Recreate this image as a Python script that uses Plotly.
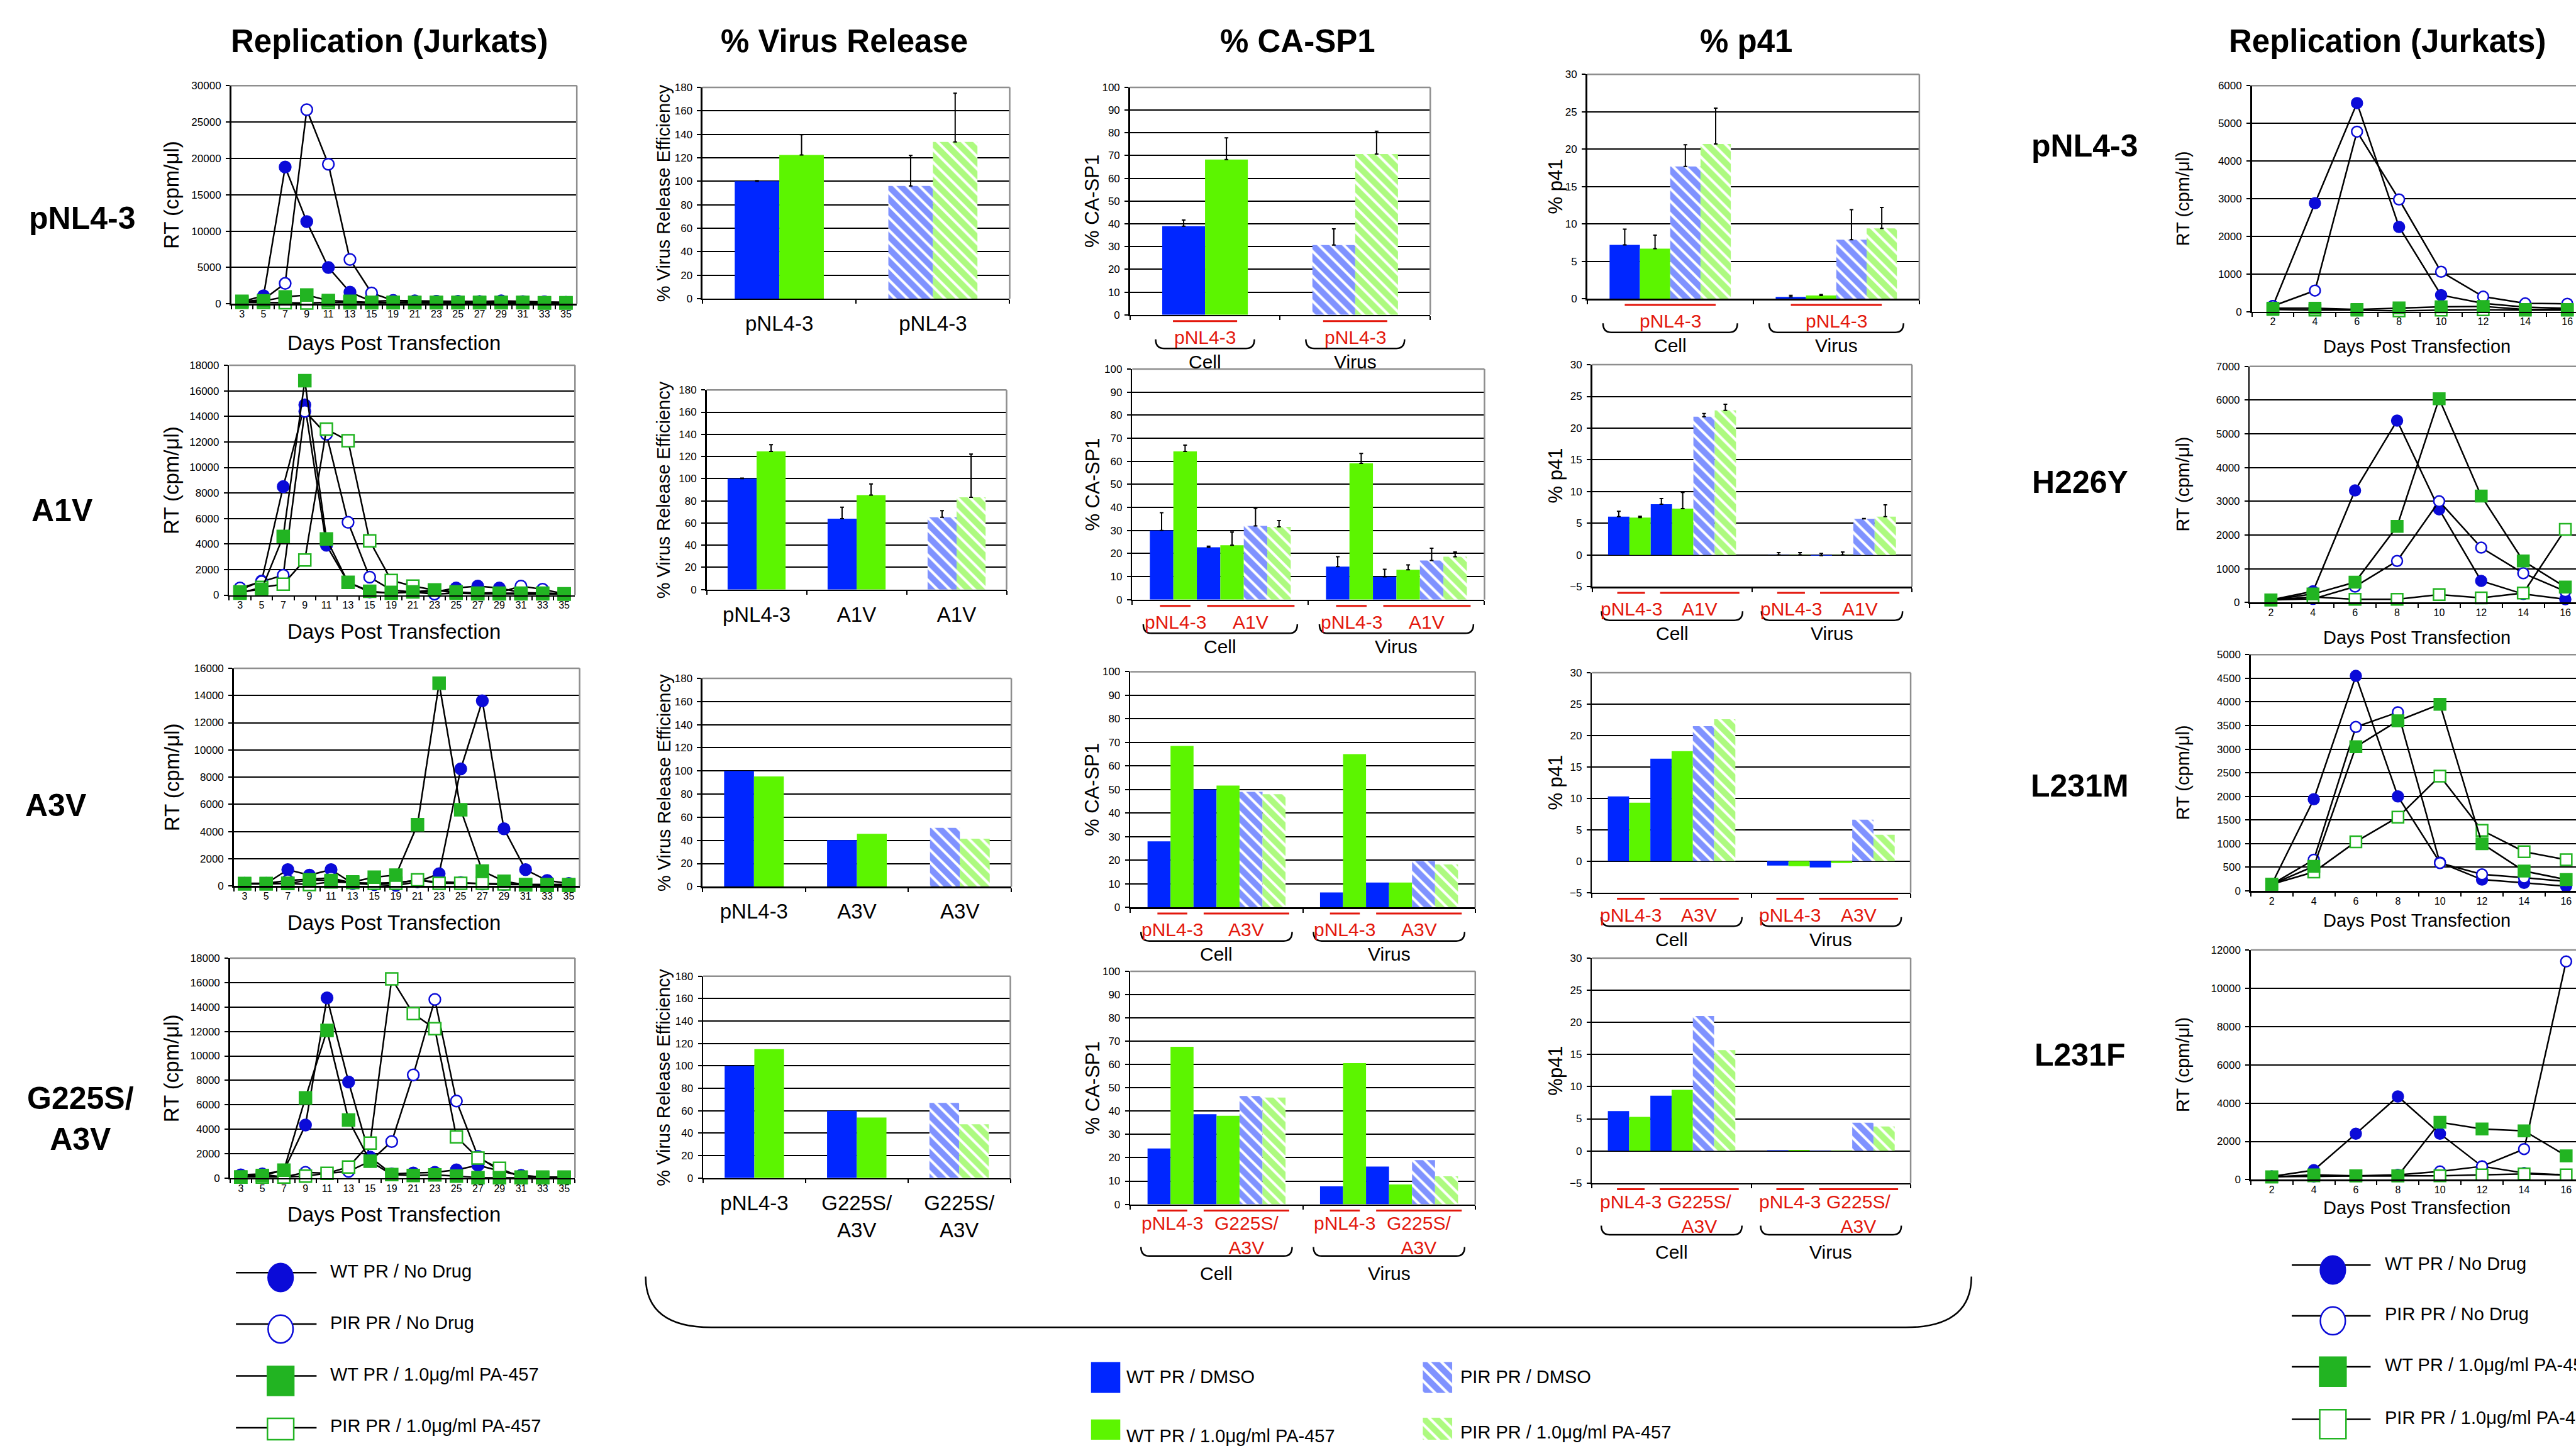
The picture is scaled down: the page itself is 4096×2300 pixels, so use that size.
import plotly.graph_objects as go

# ------------------------------------------------------------------ data
days_left = ["3", "5", "7", "9", "11", "13", "15", "19", "21", "23", "25", "27", "29", "31", "33", "35"]
days_right = ["2", "4", "6", "8", "10", "12", "14", "16"]
series_labels = ["WT PR / No Drug", "PIR PR / No Drug", "WT PR / 1.0μg/ml PA-457", "PIR PR / 1.0μg/ml PA-457"]
bar_legend_labels = ["WT PR / DMSO", "WT PR / 1.0μg/ml PA-457", "PIR PR / DMSO", "PIR PR / 1.0μg/ml PA-457"]
left_rows = ["pNL4-3", "A1V", "A3V", "G225S/<br>A3V"]
right_rows = ["pNL4-3", "H226Y", "L231M", "L231F"]
mutants = ["A1V", "A3V", "G225S/<br>A3V"]

# Replication (left column, days 3-35), RT cpm/ul
L1_wt_nd = [300, 1100, 18800, 11300, 5000, 1600, 350, 450, 400, 350, 350, 300, 400, 300, 250, 200]
L1_pir_nd = [250, 600, 2800, 26700, 19200, 6100, 1500, 450, 350, 350, 300, 300, 300, 250, 250, 200]
L1_wt_pa = [350, 400, 950, 1200, 450, 350, 200, 200, 200, 200, 200, 200, 200, 200, 150, 150]
L1_pir_pa = [200, 200, 150, 100, 200, 150, 150, 150, 150, 150, 150, 150, 150, 150, 100, 100]

L2_wt_nd = [400, 1100, 8500, 14900, 3900, 1000, 250, 150, 250, 250, 550, 700, 550, 200, 150, 100]
L2_pir_nd = [550, 1050, 1550, 14400, 12600, 5700, 1400, 400, 250, 80, 150, 150, 200, 700, 450, 100]
L2_wt_pa = [250, 450, 4600, 16800, 4400, 1000, 300, 150, 250, 400, 150, 100, 100, 100, 100, 80]
L2_pir_pa = [150, 600, 850, 2750, 13000, 12100, 4250, 1150, 700, 400, 250, 150, 150, 150, 150, 100]

L3_wt_nd = [180, 180, 1200, 800, 1200, 180, 100, 50, 300, 900, 8600, 13600, 4200, 1200, 400, 180]
L3_pir_nd = [200, 200, 400, 500, 600, 200, 200, 250, 400, 300, 250, 150, 100, 100, 100, 100]
L3_wt_pa = [180, 180, 180, 450, 400, 300, 650, 800, 4500, 14900, 5600, 1100, 350, 80, 50, 50]
L3_pir_pa = [150, 150, 200, 100, 300, 250, 200, 200, 450, 200, 200, 200, 150, 100, 100, 100]

L4_wt_nd = [260, 340, 600, 4340, 14750, 7870, 1710, 340, 415, 470, 675, 1040, 600, 210, 80, 80]
L4_pir_nd = [210, 300, 80, 470, 390, 545, 1380, 2990, 8440, 14620, 6310, 1770, 600, 210, 80, 80]
L4_wt_pa = [80, 210, 650, 6570, 12080, 4750, 1380, 290, 210, 260, 160, 30, 30, 30, 30, 30]
L4_pir_pa = [80, 80, 80, 160, 390, 910, 2860, 16310, 13460, 12230, 3380, 1640, 800, 80, 80, 80]

# Replication (right column, days 2-16)
R1_wt_nd = [150, 2880, 5540, 2250, 440, 220, 120, 90]
R1_pir_nd = [150, 560, 4780, 2980, 1060, 400, 220, 210]
R1_wt_pa = [90, 90, 60, 100, 130, 140, 60, 60]
R1_pir_pa = [60, 40, 40, 20, 40, 50, 40, 40]

R2_wt_nd = [75, 330, 3320, 5390, 2760, 640, 250, 95]
R2_pir_nd = [75, 105, 470, 1230, 3000, 1625, 865, 330]
R2_wt_pa = [75, 250, 600, 2255, 6040, 3155, 1230, 455]
R2_pir_pa = [75, 165, 95, 95, 235, 135, 280, 2165]

R3_wt_nd = [140, 1940, 4550, 2000, 600, 240, 170, 100]
R3_pir_nd = [140, 660, 3470, 3780, 590, 350, 280, 200]
R3_wt_pa = [140, 520, 3050, 3600, 3950, 1000, 420, 240]
R3_pir_pa = [140, 400, 1040, 1560, 2430, 1280, 830, 660]

R4_wt_nd = [170, 500, 2400, 4350, 2400, 700, 350, 250]
R4_pir_nd = [170, 170, 200, 250, 430, 700, 1600, 11400]
R4_wt_pa = [150, 250, 200, 200, 3000, 2650, 2550, 1250]
R4_pir_pa = [150, 200, 200, 200, 200, 250, 300, 250]

# % Virus Release Efficiency (blue = DMSO, green = PA-457; hatched = PIR PR)
VR1_cats = ["pNL4-3", "pNL4-3"]
VR1_hatch = ["", "\\"]
VR1_blue = [100, 96]
VR1_blue_err = [0.5, 26]
VR1_green = [122.4, 133.5]
VR1_green_err = [17.2, 41.5]

VR2_cats = ["pNL4-3", "A1V", "A1V"]
VR2_hatch = ["", "", "\\"]
VR2_blue = [100, 63.9, 65.1]
VR2_blue_err = [0.4, 10.3, 6]
VR2_green = [124.5, 85.2, 83.1]
VR2_green_err = [6.1, 10, 39.1]

VR3_cats = ["pNL4-3", "A3V", "A3V"]
VR3_hatch = ["", "", "\\"]
VR3_blue = [100, 40.2, 50.9]
VR3_green = [95.3, 45.7, 41.5]

VR4_cats = ["pNL4-3", "G225S/<br>A3V", "G225S/<br>A3V"]
VR4_hatch = ["", "", "\\"]
VR4_blue = [100, 60, 67]
VR4_green = [115, 54, 48]

# % CA-SP1 ; categories Cell, Virus
fractions = ["Cell", "Virus"]
CA1_hatch = ["", "\\"]
CA1_blue = [39.0, 30.7]
CA1_blue_err = [2.7, 7.1]
CA1_green = [68.3, 70.7]
CA1_green_err = [9.5, 10.0]

CA2_wt_blue = [30.0, 14.3]
CA2_wt_blue_err = [7.7, 4.3]
CA2_wt_green = [64.3, 59.1]
CA2_wt_green_err = [2.7, 4.3]
CA2_mut_blue = [22.7, 9.9]
CA2_mut_blue_err = [0.5, 3.3]
CA2_mut_green = [23.6, 13.0]
CA2_mut_green_err = [5.7, 2.1]
CA2_pir_blue = [32.0, 17.0]
CA2_pir_blue_err = [7.6, 5.3]
CA2_pir_green = [31.6, 18.6]
CA2_pir_green_err = [2.7, 2.1]

CA3_wt_blue = [28.0, 6.3]
CA3_wt_green = [68.5, 65.0]
CA3_mut_blue = [50.0, 10.5]
CA3_mut_green = [51.7, 10.5]
CA3_pir_blue = [49.0, 19.6]
CA3_pir_green = [48.0, 18.2]

CA4_wt_blue = [24.0, 7.7]
CA4_wt_green = [67.6, 60.6]
CA4_mut_blue = [38.7, 16.2]
CA4_mut_green = [38.0, 8.5]
CA4_pir_blue = [46.5, 19.0]
CA4_pir_green = [45.8, 12.0]

# % p41
P1_wt_blue = [7.2, 0.25]
P1_wt_blue_err = [2.1, 0.2]
P1_wt_green = [6.7, 0.43]
P1_wt_green_err = [1.8, 0.12]
P1_pir_blue = [17.7, 7.9]
P1_pir_blue_err = [2.9, 4.0]
P1_pir_green = [20.7, 9.4]
P1_pir_green_err = [4.8, 2.8]

P2_wt_blue = [6.05, 0.03]
P2_wt_blue_err = [0.85, 0.35]
P2_wt_green = [5.9, 0.03]
P2_wt_green_err = [0.2, 0.35]
P2_mut_blue = [8.0, -0.1]
P2_mut_blue_err = [0.9, 0.35]
P2_mut_green = [7.3, 0.03]
P2_mut_green_err = [2.55, 0.45]
P2_pir_blue = [21.8, 5.7]
P2_pir_blue_err = [0.5, 0.05]
P2_pir_green = [22.8, 6.05]
P2_pir_green_err = [0.95, 1.85]

P3_wt_blue = [10.3, -0.7]
P3_wt_green = [9.3, -0.8]
P3_mut_blue = [16.3, -1.0]
P3_mut_green = [17.5, -0.3]
P3_pir_blue = [21.5, 6.6]
P3_pir_green = [22.6, 4.2]

P4_wt_blue = [6.2, 0.1]
P4_wt_green = [5.3, 0.15]
P4_mut_blue = [8.6, 0.05]
P4_mut_green = [9.5, 0.05]
P4_pir_blue = [21.0, 4.4]
P4_pir_green = [15.7, 3.8]

# ------------------------------------------------------------------ style
FONT = "Liberation Sans, Arial, Helvetica, sans-serif"
W, H = 4096, 2300
RW, RH = 1568.0, 881.0          # reference frame (same proportions as output)
V_OFF, V_SCALE = 2.5, 0.992     # small vertical correction measured on the rendered page
BLUE_BAR = "#0026FF"
GREEN_BAR = "#5CF500"
BLUE_MK = "#0B0BD8"
GREEN_MK = "#22B422"
RED = "#E3170C"
GRAY = "#8E8E8E"
HATCH_SIZE = 14
HATCH_SOLID = 0.7


def clamp(v):
    return max(0.0, min(1.0, v))


def px(x):
    return x / RW


def py(y):
    return 1.0 - ((y - V_OFF) / V_SCALE) / RH


fig = go.Figure()
layout = {}
annotations = []
shapes = []
counter = [0]


def new_axes(dom, xa, ya):
    counter[0] += 1
    k = counter[0]
    xn = "xaxis" if k == 1 else "xaxis%d" % k
    yn = "yaxis" if k == 1 else "yaxis%d" % k
    xr = "x" if k == 1 else "x%d" % k
    yr = "y" if k == 1 else "y%d" % k
    x0, x1, yt, yb = dom
    xa = dict(xa)
    ya = dict(ya)
    xa.update(domain=[clamp(px(x0)), clamp(px(x1))], anchor=yr)
    ya.update(domain=[clamp(py(yb)), clamp(py(yt))], anchor=xr)
    layout[xn] = xa
    layout[yn] = ya
    return xr, yr


def yaxis_style(rng, dtick):
    return dict(range=rng, dtick=dtick, tick0=0, tickformat="d", showgrid=True, gridcolor="black",
                gridwidth=2, showline=True, linecolor="black", linewidth=2.5, ticks="outside",
                ticklen=6, tickwidth=2, tickcolor="black", ticklabelstandoff=4,
                tickfont=dict(family=FONT, size=17, color="black"), zeroline=False, fixedrange=True)


def border(xr, yr, right=True):
    shapes.append(dict(type="line", xref=xr + " domain", yref=yr + " domain", x0=0, x1=1, y0=1, y1=1,
                       line=dict(color=GRAY, width=2.5), layer="above"))
    if right:
        shapes.append(dict(type="line", xref=xr + " domain", yref=yr + " domain", x0=1, x1=1, y0=0, y1=1,
                           line=dict(color=GRAY, width=2.5), layer="above"))


def text(t, x, y, size, color="black", bold=False, angle=0, xanchor="center", yanchor="middle"):
    annotations.append(dict(text="<b>%s</b>" % t if bold else t, x=px(x), y=py(y), xref="paper", yref="paper",
                            showarrow=False, textangle=angle, xanchor=xanchor, yanchor=yanchor,
                            font=dict(family=FONT, size=size, color=color)))


def rep_panel(dom, days, wt_nd, pir_nd, wt_pa, pir_pa, ymax, dtick, catw, msz, right=True):
    xmax = -0.5 + (min(dom[1], RW) - dom[0]) / catw
    xr, yr = new_axes(dom,
                      dict(type="category", categoryorder="array", categoryarray=days, range=[-0.5, xmax],
                           showgrid=False, showline=True, linecolor="black", linewidth=2.5, ticks="outside",
                           tickson="boundaries", ticklen=6, tickwidth=2, tickcolor="black",
                           tickfont=dict(family=FONT, size=16, color="black"), zeroline=False, fixedrange=True),
                      yaxis_style([0, ymax], dtick))
    specs = [(wt_nd, "circle", BLUE_MK, BLUE_MK, msz), (pir_nd, "circle", "white", BLUE_MK, msz),
             (pir_pa, "square", "white", GREEN_MK, msz + 1), (wt_pa, "square", GREEN_MK, GREEN_MK, msz + 1)]
    for vals, sym, fill, edge, sz in specs:
        fig.add_trace(go.Scatter(x=days, y=vals, xaxis=xr, yaxis=yr, mode="lines+markers",
                                 line=dict(color="black", width=2.5),
                                 marker=dict(symbol=sym, size=sz, color=fill, line=dict(color=edge, width=2.5)),
                                 cliponaxis=False, showlegend=False, hoverinfo="skip"))
    border(xr, yr, right)


def bar_panel(dom, ncat, traces, yrange, dtick, frac, ticktext=None):
    minor_vals = [i - 0.5 for i in range(ncat + 1)]
    xa = dict(range=[-0.5, ncat - 0.5], tickmode="array", tickvals=list(range(ncat)),
              ticktext=ticktext if ticktext else [""] * ncat, showticklabels=bool(ticktext), ticks="",
              showgrid=False, showline=True, linecolor="black", linewidth=2.5, zeroline=False, fixedrange=True,
              ticklabelstandoff=9, tickfont=dict(family=FONT, size=33, color="black"),
              minor=dict(tickmode="array", tickvals=minor_vals, ticks="outside", ticklen=6, tickwidth=2,
                         tickcolor="black", showgrid=False))
    xr, yr = new_axes(dom, xa, yaxis_style(yrange, dtick))
    n = len(traces)
    bw = frac / n
    xs = list(range(ncat))
    for j, (vals, errs, color, pats) in enumerate(traces):
        if errs is None:
            eb = dict(visible=False)
        else:
            eb = dict(type="data", symmetric=False, array=errs, arrayminus=[0] * len(errs), color="black",
                      thickness=2, width=3, visible=True)
        fig.add_trace(go.Bar(x=xs, y=vals, width=bw, offset=-frac / 2 + j * bw, xaxis=xr, yaxis=yr,
                             marker=dict(color=color, line=dict(width=0),
                                         pattern=dict(shape=pats, fgcolor=color, bgcolor="white",
                                                      size=HATCH_SIZE, solidity=HATCH_SOLID)),
                             error_y=eb, showlegend=False, hoverinfo="skip"))
    border(xr, yr)
    return bw


def group_labels(dom, ncat, frac, n, groups, two_line):
    x0, x1, yt, yb = dom
    unit = (x1 - x0) / ncat
    bw = frac / n

    def rx(v):
        return x0 + (v + 0.5) * unit

    for c in range(ncat):
        for label, first, last, kind in groups:
            gc = c - frac / 2 + (first + last + 1) / 2.0 * bw
            gh = (last - first + 1) * bw / 2.0
            if kind == "all":
                cen, half = gc, 0.75 * gh
            elif kind == "ref":
                cen, half = gc + 0.08 * bw, 0.65 * gh
            else:
                cen, half = gc + 0.3 * bw, 0.93 * gh
            shapes.append(dict(type="line", xref="paper", yref="paper", x0=px(rx(cen - half)),
                               x1=px(rx(cen + half)), y0=py(yb + 3.8), y1=py(yb + 3.8),
                               line=dict(color=RED, width=3)))
            text(label, rx(cen), yb + (4.5 if two_line else 6.5), 30, color=RED, yanchor="top")
        # brace under the category
        bl = rx(c - frac / 2) - 4
        br = rx(c + frac / 2) + 4
        t0, t1 = (26, 31.5) if two_line else (15, 20.5)
        r = 5
        path = "M %f,%f Q %f,%f %f,%f L %f,%f Q %f,%f %f,%f" % (
            px(bl), py(yb + t0), px(bl), py(yb + t1), px(bl + r), py(yb + t1),
            px(br - r), py(yb + t1), px(br), py(yb + t1), px(br), py(yb + t0))
        shapes.append(dict(type="path", path=path, xref="paper", yref="paper", line=dict(color="black", width=2.5)))
        text(fractions[c], rx(c), yb + (42 if two_line else 28.5), 30)


# ------------------------------------------------------------------ panels
# left replication column
A_doms = [(140.7, 351.1, 51.3, 184.2), (139.5, 350.0, 221.7, 361.7), (142.3, 352.8, 406.3, 539.0),
          (140.0, 350.0, 583.0, 717.0)]
A_data = [(L1_wt_nd, L1_pir_nd, L1_wt_pa, L1_pir_pa, 30000, 5000),
          (L2_wt_nd, L2_pir_nd, L2_wt_pa, L2_pir_pa, 18000, 2000),
          (L3_wt_nd, L3_pir_nd, L3_wt_pa, L3_pir_pa, 16000, 2000),
          (L4_wt_nd, L4_pir_nd, L4_wt_pa, L4_pir_pa, 18000, 2000)]
A_days_y = [207.9, 383.9, 561.3, 739.0]
A_row_pos = [(50, 132), (38, 310), (34, 490), (49, 681)]
for i in range(4):
    d = A_doms[i]
    wt_nd, pir_nd, wt_pa, pir_pa, ymax, dt = A_data[i]
    rep_panel(d, days_left, wt_nd, pir_nd, wt_pa, pir_pa, ymax, dt, (d[1] - d[0]) / 16.0, 18)
    text("RT (cpm/μl)", 104.6, (d[2] + d[3]) / 2, 33, angle=-90)
    text("Days Post Transfection", 240, A_days_y[i], 33)
    text(left_rows[i], A_row_pos[i][0], A_row_pos[i][1], 50, bold=True)

# right replication column
E_doms = [(1370.7, 1568.0, 51.3, 189.0), (1369.5, 1568.0, 222.3, 366.2), (1370.0, 1568.0, 398.0, 542.0),
          (1370.0, 1568.0, 578.0, 718.0)]
E_data = [(R1_wt_nd, R1_pir_nd, R1_wt_pa, R1_pir_pa, 6000, 1000),
          (R2_wt_nd, R2_pir_nd, R2_wt_pa, R2_pir_pa, 7000, 1000),
          (R3_wt_nd, R3_pir_nd, R3_wt_pa, R3_pir_pa, 5000, 500),
          (R4_wt_nd, R4_pir_nd, R4_wt_pa, R4_pir_pa, 12000, 2000)]
E_days_y = [210.0, 387.5, 560.0, 735.0]
E_row_pos = [(1269, 88), (1266, 293), (1266, 478), (1266, 642)]
for i in range(4):
    d = E_doms[i]
    wt_nd, pir_nd, wt_pa, pir_pa, ymax, dt = E_data[i]
    rep_panel(d, days_right, wt_nd, pir_nd, wt_pa, pir_pa, ymax, dt, 25.6, 17, right=False)
    text("RT (cpm/μl)", 1328.8, (d[2] + d[3]) / 2, 29, angle=-90)
    text("Days Post Transfection", 1471, E_days_y[i], 29)
    text(right_rows[i], E_row_pos[i][0], E_row_pos[i][1], 50, bold=True)

# % Virus Release
B_doms = [(427.6, 614.6, 52.3, 181.0), (430.1, 612.7, 236.7, 358.3), (427.6, 615.6, 412.5, 539.4),
          (428.0, 615.0, 594.0, 717.0)]
B_panels = [(VR1_cats, [(VR1_blue, VR1_blue_err, BLUE_BAR, VR1_hatch), (VR1_green, VR1_green_err, GREEN_BAR, VR1_hatch)]),
            (VR2_cats, [(VR2_blue, VR2_blue_err, BLUE_BAR, VR2_hatch), (VR2_green, VR2_green_err, GREEN_BAR, VR2_hatch)]),
            (VR3_cats, [(VR3_blue, None, BLUE_BAR, VR3_hatch), (VR3_green, None, GREEN_BAR, VR3_hatch)]),
            (VR4_cats, [(VR4_blue, None, BLUE_BAR, VR4_hatch), (VR4_green, None, GREEN_BAR, VR4_hatch)])]
for i in range(4):
    d = B_doms[i]
    cats, trs = B_panels[i]
    bar_panel(d, len(cats), trs, [0, 180], 20, 0.58, ticktext=cats)
    text("% Virus Release Efficiency", 404, (d[2] + d[3]) / 2, 29, angle=-90)

# % CA-SP1
C_doms = [(687.8, 870.6, 52.3, 190.9), (689.2, 903.6, 224.0, 364.5), (688.0, 898.0, 408.4, 552.0),
          (688.0, 898.0, 591.0, 733.0)]
C1_traces = [(CA1_blue, CA1_blue_err, BLUE_BAR, CA1_hatch), (CA1_green, CA1_green_err, GREEN_BAR, CA1_hatch)]
SOLID = ["", ""]
HATCH = ["\\", "\\"]
C2_traces = [(CA2_wt_blue, CA2_wt_blue_err, BLUE_BAR, SOLID), (CA2_wt_green, CA2_wt_green_err, GREEN_BAR, SOLID),
             (CA2_mut_blue, CA2_mut_blue_err, BLUE_BAR, SOLID), (CA2_mut_green, CA2_mut_green_err, GREEN_BAR, SOLID),
             (CA2_pir_blue, CA2_pir_blue_err, BLUE_BAR, HATCH), (CA2_pir_green, CA2_pir_green_err, GREEN_BAR, HATCH)]
C3_traces = [(CA3_wt_blue, None, BLUE_BAR, SOLID), (CA3_wt_green, None, GREEN_BAR, SOLID),
             (CA3_mut_blue, None, BLUE_BAR, SOLID), (CA3_mut_green, None, GREEN_BAR, SOLID),
             (CA3_pir_blue, None, BLUE_BAR, HATCH), (CA3_pir_green, None, GREEN_BAR, HATCH)]
C4_traces = [(CA4_wt_blue, None, BLUE_BAR, SOLID), (CA4_wt_green, None, GREEN_BAR, SOLID),
             (CA4_mut_blue, None, BLUE_BAR, SOLID), (CA4_mut_green, None, GREEN_BAR, SOLID),
             (CA4_pir_blue, None, BLUE_BAR, HATCH), (CA4_pir_green, None, GREEN_BAR, HATCH)]
C_traces = [C1_traces, C2_traces, C3_traces, C4_traces]
C_frac = [0.57, 0.8, 0.8, 0.8]
for i in range(4):
    d = C_doms[i]
    bar_panel(d, 2, C_traces[i], [0, 100], 10, C_frac[i])
    n = len(C_traces[i])
    if i == 0:
        groups = [("pNL4-3", 0, n - 1, "all")]
    else:
        groups = [("pNL4-3", 0, 1, "ref"), (mutants[i - 1], 2, 5, "mut")]
    group_labels(d, 2, C_frac[i], n, groups, i == 3)
    text("% CA-SP1", 665, (d[2] + d[3]) / 2, 31, angle=-90)

# % p41
D_doms = [(966.1, 1168.3, 44.4, 181.1), (969.1, 1163.8, 221.3, 356.6), (969.0, 1163.0, 409.0, 543.0),
          (969.0, 1163.0, 583.0, 720.0)]
D1_traces = [(P1_wt_blue, P1_wt_blue_err, BLUE_BAR, SOLID), (P1_wt_green, P1_wt_green_err, GREEN_BAR, SOLID),
             (P1_pir_blue, P1_pir_blue_err, BLUE_BAR, HATCH), (P1_pir_green, P1_pir_green_err, GREEN_BAR, HATCH)]
D2_traces = [(P2_wt_blue, P2_wt_blue_err, BLUE_BAR, SOLID), (P2_wt_green, P2_wt_green_err, GREEN_BAR, SOLID),
             (P2_mut_blue, P2_mut_blue_err, BLUE_BAR, SOLID), (P2_mut_green, P2_mut_green_err, GREEN_BAR, SOLID),
             (P2_pir_blue, P2_pir_blue_err, BLUE_BAR, HATCH), (P2_pir_green, P2_pir_green_err, GREEN_BAR, HATCH)]
D3_traces = [(P3_wt_blue, None, BLUE_BAR, SOLID), (P3_wt_green, None, GREEN_BAR, SOLID),
             (P3_mut_blue, None, BLUE_BAR, SOLID), (P3_mut_green, None, GREEN_BAR, SOLID),
             (P3_pir_blue, None, BLUE_BAR, HATCH), (P3_pir_green, None, GREEN_BAR, HATCH)]
D4_traces = [(P4_wt_blue, None, BLUE_BAR, SOLID), (P4_wt_green, None, GREEN_BAR, SOLID),
             (P4_mut_blue, None, BLUE_BAR, SOLID), (P4_mut_green, None, GREEN_BAR, SOLID),
             (P4_pir_blue, None, BLUE_BAR, HATCH), (P4_pir_green, None, GREEN_BAR, HATCH)]
D_traces = [D1_traces, D2_traces, D3_traces, D4_traces]
D_frac = [0.73, 0.8, 0.8, 0.8]
D_titles = ["% p41", "% p41", "% p41", "%p41"]
for i in range(4):
    d = D_doms[i]
    yr = [0, 30] if i == 0 else [-5, 30]
    bar_panel(d, 2, D_traces[i], yr, 5, D_frac[i])
    n = len(D_traces[i])
    if i == 0:
        groups = [("pNL4-3", 0, n - 1, "all")]
    else:
        groups = [("pNL4-3", 0, 1, "ref"), (mutants[i - 1], 2, 5, "mut")]
    group_labels(d, 2, D_frac[i], n, groups, i == 3)
    text(D_titles[i], 947, (d[2] + d[3]) / 2, 31, angle=-90)

# ------------------------------------------------------------------ column titles
text("Replication (Jurkats)", 237, 24, 51, bold=True)
text("% Virus Release", 514, 24, 51, bold=True)
text("% CA-SP1", 790, 24, 51, bold=True)
text("% p41", 1063, 24, 51, bold=True)
text("Replication (Jurkats)", 1453, 24, 51, bold=True)


# ------------------------------------------------------------------ replication legends (left and right)
def line_legend(x_line0, x_line1, x_mark, x_text, ys):
    kinds = [("circle", BLUE_MK, BLUE_MK, 7.6, 8.5), ("circle", "white", BLUE_MK, 7.6, 8.5),
             ("rect", GREEN_MK, GREEN_MK, 8.0, 8.8), ("rect", "white", GREEN_MK, 8.0, 8.8)]
    for k, y in enumerate(ys):
        shapes.append(dict(type="line", xref="paper", yref="paper", x0=px(x_line0), x1=px(x_line1),
                           y0=py(y), y1=py(y), line=dict(color="black", width=2.5)))
        kind, fill, edge, rx_, ry_ = kinds[k]
        yc = y + 3
        shapes.append(dict(type=kind, xref="paper", yref="paper", x0=px(x_mark - rx_), x1=px(x_mark + rx_),
                           y0=clamp(py(yc + ry_)), y1=py(yc - ry_), fillcolor=fill, line=dict(color=edge, width=2.5)))
        text(series_labels[k], x_text, y - 1, 29, xanchor="left")


line_legend(143.6, 192.7, 170.8, 200.3, [774.6, 806, 837.6, 869.2])
line_legend(1395, 1443, 1420, 1451, [770, 801, 832, 864])

# ------------------------------------------------------------------ bar legend (centre)
swatches = [((664, 682, 829, 848), BLUE_BAR, ""), ((664, 682, 864, 881), GREEN_BAR, ""),
            ((866, 884, 829, 848), BLUE_BAR, "\\"), ((866, 884, 863, 881), GREEN_BAR, "\\")]
swatch_text = [(685, 838), (685, 874), (888, 838), (888, 872)]
for k, (dom, color, pat) in enumerate(swatches):
    xr, yr = new_axes(dom, dict(visible=False, range=[-0.5, 0.5], fixedrange=True),
                      dict(visible=False, range=[0, 1], fixedrange=True))
    fig.add_trace(go.Bar(x=[0], y=[1], width=1, offset=-0.5, xaxis=xr, yaxis=yr,
                         marker=dict(color=color, line=dict(width=0),
                                     pattern=dict(shape=pat, fgcolor=color, bgcolor="white",
                                                  size=HATCH_SIZE, solidity=HATCH_SOLID)),
                         showlegend=False, hoverinfo="skip"))
    text(bar_legend_labels[k], swatch_text[k][0], swatch_text[k][1], 29, xanchor="left")

# big bracket spanning the three bar columns
shapes.append(dict(type="path", xref="paper", yref="paper", line=dict(color="black", width=2.5),
                   path="M %f,%f Q %f,%f %f,%f L %f,%f Q %f,%f %f,%f" % (
                       px(393), py(777), px(393), py(808), px(433), py(808), px(1160), py(808),
                       px(1200), py(808), px(1200), py(777))))

fig.update_layout(width=W, height=H, margin=dict(l=0, r=0, t=0, b=0), paper_bgcolor="white",
                  plot_bgcolor="white", barmode="overlay", showlegend=False, hovermode=False,
                  font=dict(family=FONT, color="black"), annotations=annotations, shapes=shapes, **layout)
fig.write_html("out.html", config={"displayModeBar": False, "staticPlot": True},
               post_script="document.body.style.margin='0px';document.body.style.padding='0px';"
                           "document.documentElement.style.overflow='hidden';")
